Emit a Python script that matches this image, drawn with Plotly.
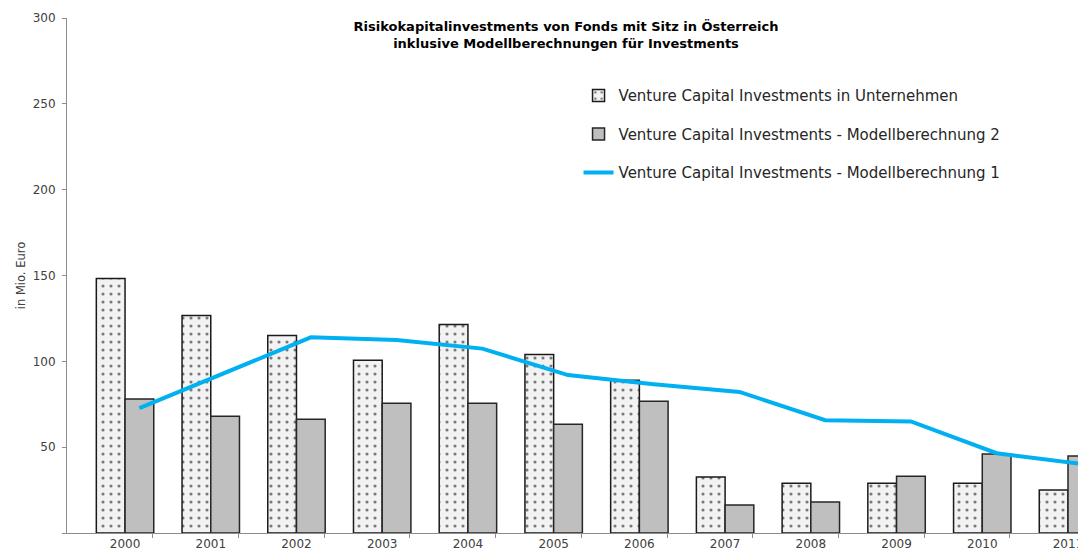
import plotly.graph_objects as go

years = ["2000", "2001", "2002", "2003", "2004", "2005", "2006", "2007", "2008", "2009", "2010", "2011"]
vc_unternehmen = [148.3, 126.7, 115.0, 100.6, 121.5, 104.0, 89.0, 32.6, 29.0, 29.0, 29.0, 25.0]
modell_2 = [78.0, 68.0, 66.3, 75.6, 75.6, 63.4, 76.7, 16.3, 18.0, 33.0, 46.0, 44.8]
modell_1 = [72.7, 93.4, 114.0, 112.4, 107.4, 92.0, 86.7, 82.2, 65.7, 65.0, 46.5, 40.1]

y_ticks = [0, 50, 100, 150, 200, 250, 300]
y_ticktext = ["", "50", "100", "150", "200", "250", "300"]

names = [
    "Venture Capital Investments in Unternehmen",
    "Venture Capital Investments - Modellberechnung 2",
    "Venture Capital Investments - Modellberechnung 1",
]

FONT = "DejaVu Sans"
idx = list(range(len(years)))
bargap = 0.33
bar_w = (1 - bargap) / 2
x_lo, x_hi = -0.677, 11.21

# page body has an 8px margin: figure is sized so that it fills the window
W, H = 1078, 548

fig = go.Figure()
fig.add_trace(go.Bar(
    x=idx, y=vc_unternehmen, name=names[0], legendgroup="a",
    marker=dict(color="#f2f2f2", line=dict(color="#1a1a1a", width=1.5),
                pattern=dict(shape=".", fgcolor="#000000", bgcolor="#f2f2f2", size=8, solidity=0.12)),
))
fig.add_trace(go.Bar(
    x=idx, y=modell_2, name=names[1], legendgroup="b",
    marker=dict(color="#bfbfbf", line=dict(color="#262626", width=1.5)),
))
fig.add_trace(go.Scatter(
    x=[i + bar_w / 2 for i in idx], y=modell_1, name=names[2], legendgroup="c",
    mode="lines", line=dict(color="#00b0f0", width=4),
))

fig.update_layout(
    width=W, height=H,
    margin=dict(l=59, r=0, t=10, b=23),
    paper_bgcolor="white", plot_bgcolor="white",
    barmode="group", bargap=bargap, bargroupgap=0,
    font=dict(family=FONT, color="#404040"),
    title=dict(
        text="<b>Risikokapitalinvestments von Fonds mit Sitz in Österreich<br>inklusive Modellberechnungen für Investments</b>",
        x=558 / W, xanchor="center", xref="container",
        y=1 - 23 / H, yanchor="top", yref="container",
        font=dict(family=FONT, size=13, color="#000000"),
    ),
    legend=dict(
        x=0.502, y=0.881, xanchor="left", yanchor="top",
        font=dict(family=FONT, size=15, color="#262626"),
        traceorder="grouped", tracegroupgap=16,
        bgcolor="rgba(0,0,0,0)",
    ),
    showlegend=True,
)
fig.update_xaxes(
    range=[x_lo, x_hi], automargin=False,
    tickmode="array", tickvals=idx, ticktext=years, ticks="",
    tickfont=dict(family=FONT, size=12, color="#404040"),
    showgrid=False, zeroline=False,
    showline=True, linecolor="#8c8c8c", linewidth=1,
    minor=dict(tickmode="array", tickvals=[x_lo + k for k in range(1, 13)],
               ticks="outside", ticklen=4, tickcolor="#8c8c8c", showgrid=False),
)
fig.update_yaxes(
    range=[0, 300], automargin=False,
    tickmode="array", tickvals=y_ticks, ticktext=y_ticktext,
    ticks="outside", ticklen=4, tickcolor="#8c8c8c", ticklabelstandoff=4,
    tickfont=dict(family=FONT, size=12, color="#404040"),
    showgrid=False, zeroline=False,
    showline=True, linecolor="#8c8c8c", linewidth=1,
    title=dict(text="in Mio. Euro", font=dict(family=FONT, size=11.5, color="#404040"), standoff=4),
)

fig.write_html("out.html")
